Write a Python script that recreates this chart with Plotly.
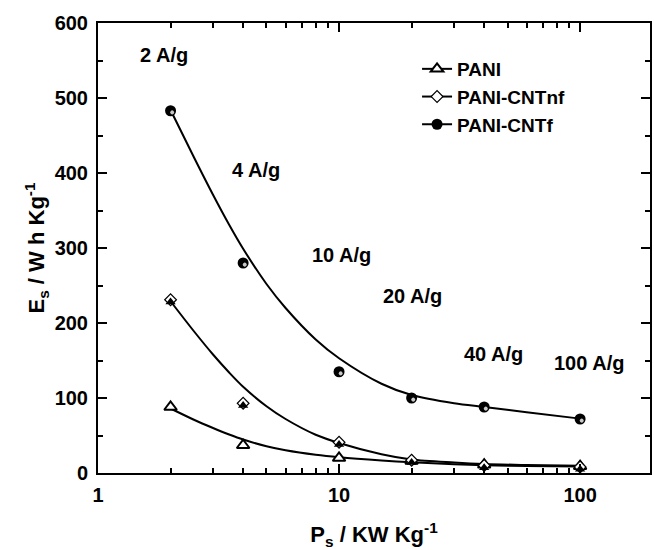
import plotly.graph_objects as go
import numpy as np

# ---- data ----
current_x = [2, 4, 10, 20, 40, 100]           # P_s (KW/kg) at each current density
pani_y = [88, 37, 20, 16, 11, 9]
cntnf_y = [231, 93, 41, 17, 10, 8]
cntf_y = [483, 280, 135, 100, 88, 72]

# fitted curves
fit_x = [2, 2.5, 3, 3.5, 4, 5, 6, 8, 10, 15, 20, 30, 40, 60, 100]
pani_fit = [86, 71, 60, 51.3, 44.6, 35.7, 30.3, 24.3, 21, 16.7, 14.3, 11.7, 10.5, 9.4, 8.6]
cntnf_fit = [229, 189, 158, 134, 115, 89, 72, 51, 40, 25, 18, 14, 12, 10.7, 9.6]
cntf_fit = [484, 421, 371, 331, 299, 252, 220, 178, 153, 119, 104, 93, 88, 81, 72.5]

rate_labels = ["2 A/g", "4 A/g", "10 A/g", "20 A/g", "40 A/g", "100 A/g"]
label_x = [1.87, 4.54, 10.2, 20.2, 43.6, 109]
label_y = [557, 404, 291, 236, 159, 147]

series_names = ["PANI", "PANI-CNTnf", "PANI-CNTf"]
y_ticks = [0, 100, 200, 300, 400, 500, 600]
x_ticks = [1, 10, 100]
x_minor = [2, 3, 4, 5, 6, 7, 8, 9, 20, 30, 40, 50, 60, 70, 80, 90]

FONT = "Liberation Sans, Arial, sans-serif"

fig = go.Figure()

# curves
for fy in [pani_fit, cntnf_fit, cntf_fit]:
    fig.add_trace(go.Scatter(x=fit_x, y=fy, mode="lines",
                             line=dict(color="black", width=2, shape="spline", smoothing=0.9),
                             showlegend=False, hoverinfo="skip"))

tri = dict(symbol="triangle-up", size=11, color="white", line=dict(color="black", width=2))
dia = dict(symbol="diamond", size=9, color="white", line=dict(color="black", width=1.2))
dia_top = dict(symbol="triangle-up", size=9, color="black", line=dict(width=0), standoff=2.3, angle=0)
ball = dict(symbol="circle", size=11, color="black", line=dict(width=0))
ball_hl = dict(symbol="circle", size=4, color="#c8c8c8", line=dict(width=0), standoff=2.3, angle=-45)

# markers
fig.add_trace(go.Scatter(x=current_x, y=pani_y, mode="markers", marker=tri, showlegend=False))
fig.add_trace(go.Scatter(x=current_x, y=cntnf_y, mode="markers", marker=dia, showlegend=False))
fig.add_trace(go.Scatter(x=current_x, y=cntnf_y, mode="markers", marker=dia_top, showlegend=False))
fig.add_trace(go.Scatter(x=current_x, y=cntf_y, mode="markers", marker=ball, showlegend=False))
fig.add_trace(go.Scatter(x=current_x, y=cntf_y, mode="markers", marker=ball_hl, showlegend=False))

# legend entries
for name, mk, grp in [(series_names[0], tri, "a"), (series_names[1], dia, "b"), (series_names[2], ball, "c")]:
    fig.add_trace(go.Scatter(x=[None], y=[None], mode="lines+markers", name="<b>%s</b>" % name, legendgroup=grp,
                             line=dict(color="black", width=2), marker=mk))

# invisible trace that carries the minor-tick axis
fig.add_trace(go.Scatter(x=current_x, y=pani_y, xaxis="x2", mode="markers",
                         marker=dict(opacity=0, size=1), showlegend=False, hoverinfo="skip"))

for t, lx, ly in zip(rate_labels, label_x, label_y):
    fig.add_annotation(x=np.log10(lx), y=ly, text="<b>%s</b>" % t, showarrow=False,
                       font=dict(family=FONT, size=20, color="black"))

XR = [0, 2.29]

fig.update_layout(
    width=654, height=550,
    margin=dict(l=98, r=2, t=23, b=77),
    paper_bgcolor="white", plot_bgcolor="white",
    font=dict(family=FONT, color="black"),
    showlegend=True,
    legend=dict(x=0.578, y=0.94, xanchor="left", yanchor="top", bgcolor="rgba(0,0,0,0)",
                font=dict(family=FONT, size=19, color="black"), tracegroupgap=0),
    xaxis=dict(type="log", range=XR, showgrid=False, zeroline=False,
               showline=True, linecolor="black", linewidth=2, mirror="ticks",
               ticks="inside", ticklen=9, tickwidth=2, tickcolor="black",
               tickvals=x_ticks, ticktext=["<b>%d</b>" % v for v in x_ticks],
               tickfont=dict(family=FONT, size=20, color="black"), ticklabelstandoff=3,
               title=dict(text="<b>P<sub>s</sub> / KW Kg<sup>-1</sup></b>", font=dict(family=FONT, size=22, color="black"),
                          standoff=22)),
    xaxis2=dict(type="log", range=XR, overlaying="x", anchor="y", side="bottom",
                showgrid=False, zeroline=False, showline=False, mirror="ticks",
                ticks="inside", ticklen=5, tickwidth=2, tickcolor="black",
                tickmode="array", tickvals=x_minor, ticktext=[""] * len(x_minor), showticklabels=True),
    yaxis=dict(range=[0, 600], showgrid=False, zeroline=False,
               showline=True, linecolor="black", linewidth=2, mirror="ticks",
               ticks="inside", ticklen=9, tickwidth=2, tickcolor="black",
               tickvals=y_ticks, ticktext=["<b>%d</b>" % v for v in y_ticks],
               tickfont=dict(family=FONT, size=20, color="black"), ticklabelstandoff=4,
               minor=dict(dtick=50, ticks="inside", ticklen=5, tickwidth=2, tickcolor="black", showgrid=False),
               title=dict(text="<b>E<sub>s</sub> / W h Kg<sup>-1</sup></b>", font=dict(family=FONT, size=22, color="black"),
                          standoff=4)),
)

fig.write_html("out.html")
